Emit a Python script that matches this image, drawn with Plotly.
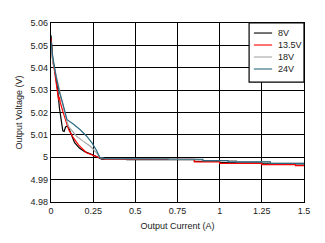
import plotly.graph_objects as go

# 8V
i_8v = [0, 0.004, 0.01, 0.02, 0.03, 0.04, 0.05, 0.06, 0.07, 0.078, 0.086, 0.1, 0.12, 0.14, 0.17, 0.2, 0.25, 0.29, 0.3, 0.45, 0.45, 0.85, 0.85, 1.0, 1.0, 1.25, 1.25, 1.5]
v_8v = [5.0545, 5.048, 5.044, 5.040, 5.035, 5.030, 5.022, 5.016, 5.0118, 5.0115, 5.0135, 5.0140, 5.0100, 5.0065, 5.0040, 5.0025, 5.0010, 4.9998, 4.9992, 4.9992, 4.9989, 4.9989, 4.9982, 4.9982, 4.9976, 4.9976, 4.9970, 4.9970]
# 13.5V
i_135v = [0, 0.004, 0.01, 0.02, 0.03, 0.04, 0.045, 0.05, 0.055, 0.07, 0.085, 0.105, 0.13, 0.163, 0.21, 0.26, 0.29, 0.32, 0.85, 0.85, 1.0, 1.0, 1.25, 1.25, 1.45, 1.45, 1.5]
v_135v = [5.053, 5.047, 5.043, 5.039, 5.034, 5.030, 5.0255, 5.0270, 5.0245, 5.0205, 5.0170, 5.0123, 5.0090, 5.0055, 5.0020, 5.0005, 4.9997, 4.9991, 4.9991, 4.9979, 4.9979, 4.9973, 4.9973, 4.9967, 4.9967, 4.9963, 4.9963]
# 18V
i_18v = [0, 0.005, 0.01, 0.02, 0.035, 0.05, 0.07, 0.09, 0.104, 0.13, 0.15, 0.19, 0.233, 0.27, 0.29, 0.32, 0.7, 0.7, 0.9, 0.9, 1.1, 1.1, 1.3, 1.3, 1.5]
v_18v = [5.050, 5.046, 5.043, 5.040, 5.035, 5.030, 5.023, 5.017, 5.0138, 5.0112, 5.0095, 5.0072, 5.0049, 5.0020, 4.9999, 4.9994, 4.9994, 4.9990, 4.9990, 4.9985, 4.9985, 4.9979, 4.9979, 4.9973, 4.9973]
# 24V
i_24v = [0, 0.005, 0.01, 0.03, 0.05, 0.07, 0.095, 0.13, 0.173, 0.21, 0.243, 0.27, 0.29, 0.32, 0.6, 0.6, 0.9, 0.9, 1.05, 1.05, 1.3, 1.3, 1.5]
v_24v = [5.052, 5.048, 5.045, 5.036, 5.029, 5.024, 5.0168, 5.0150, 5.0123, 5.0095, 5.0064, 5.0030, 4.9998, 4.9994, 4.9994, 4.9991, 4.9991, 4.9985, 4.9985, 4.9979, 4.9979, 4.9973, 4.9973]

x_ticks = [0, 0.25, 0.5, 0.75, 1, 1.25, 1.5]
x_tick_text = ["0", "0.25", "0.5", "0.75", "1", "1.25", "1.5"]
y_ticks = [4.98, 4.99, 5.0, 5.01, 5.02, 5.03, 5.04, 5.05, 5.06]
y_tick_text = ["4.98", "4.99", "5", "5.01", "5.02", "5.03", "5.04", "5.05", "5.06"]

series = [
    ("8V", i_8v, v_8v, "#000000"),
    ("13.5V", i_135v, v_135v, "#ff0000"),
    ("18V", i_18v, v_18v, "#a6a6a6"),
    ("24V", i_24v, v_24v, "#2b6a80"),
]

fig = go.Figure()
for name, xs, ys, col in series:
    fig.add_trace(go.Scatter(x=xs, y=ys, mode="lines", name=name,
                             line=dict(color=col, width=1.2), showlegend=False))

font = dict(family="Liberation Sans, Arial, sans-serif", size=9, color="#1a1a1a")

# custom compact legend (paper coordinates)
shapes = [dict(type="rect", xref="paper", yref="paper", x0=0.783, x1=1.0, y0=0.670, y1=1.0,
               line=dict(color="black", width=1.2), fillcolor="white", layer="above")]
annotations = []
legend_y = [0.944, 0.877, 0.810, 0.743]
for (name, _, _, col), ly in zip(series, legend_y):
    shapes.append(dict(type="line", xref="paper", yref="paper", x0=0.802, x1=0.874, y0=ly, y1=ly,
                       line=dict(color=col, width=1.1), layer="above"))
    annotations.append(dict(xref="paper", yref="paper", x=0.889, y=ly, text=name, showarrow=False,
                            xanchor="left", yanchor="middle", font=font))

fig.update_layout(
    width=325, height=243,
    margin=dict(l=51, r=21, t=23, b=41),
    paper_bgcolor="white", plot_bgcolor="white",
    font=font,
    showlegend=False,
    shapes=shapes,
    annotations=annotations,
    xaxis=dict(range=[0, 1.5], tickvals=x_ticks, ticktext=x_tick_text,
               showgrid=True, gridcolor="black", gridwidth=1.3,
               showline=True, linecolor="black", linewidth=1.3, mirror=True,
               zeroline=False, ticks="", ticklen=0,
               title=dict(text="Output Current (A)", standoff=7, font=font)),
    yaxis=dict(range=[4.98, 5.06], tickvals=y_ticks, ticktext=y_tick_text,
               showgrid=True, gridcolor="black", gridwidth=1.3,
               showline=True, linecolor="black", linewidth=1.3, mirror=True,
               zeroline=False, ticks="", ticklen=0,
               title=dict(text="Output Voltage (V)", standoff=6, font=font)),
)
fig.write_html("out.html")
